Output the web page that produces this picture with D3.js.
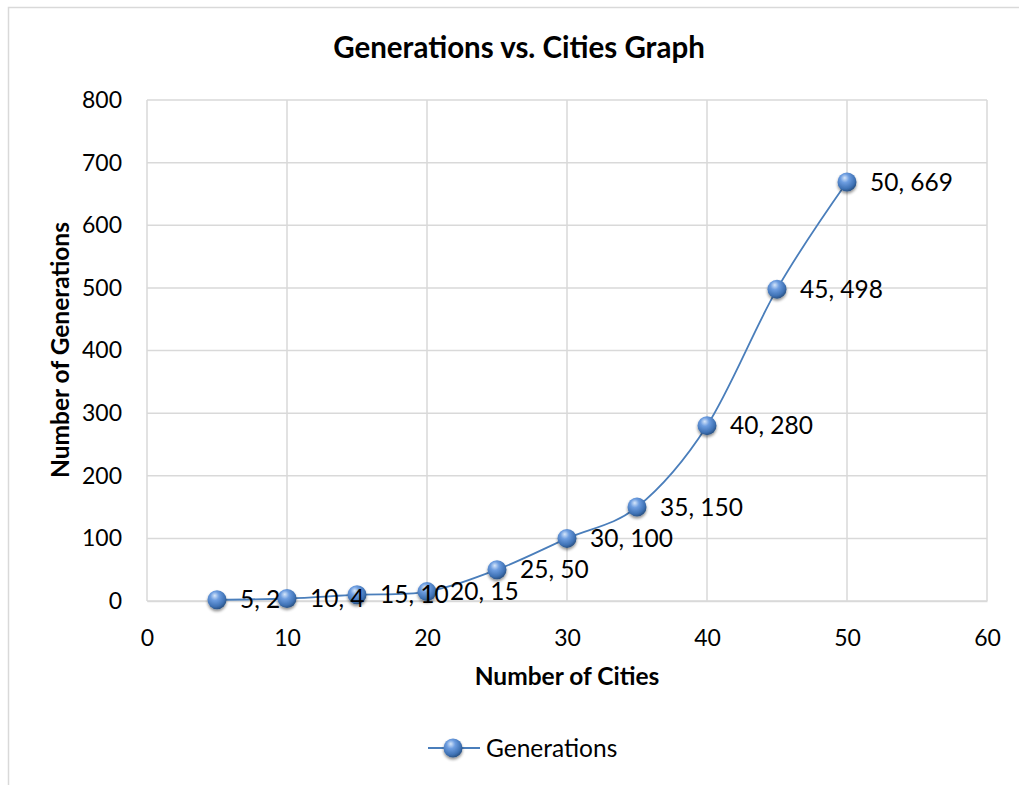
<!DOCTYPE html>
<html><head><meta charset="utf-8">
<script src="https://cdn.jsdelivr.net/npm/d3@7"></script>
<style>body{margin:0;background:#fff}svg{display:block}text{font-family:Lato,"Open Sans",sans-serif;fill:#000}</style>
</head><body>
<svg id="c" width="1019" height="785"></svg>
<script>
const cities = [5,10,15,20,25,30,35,40,45,50];
const generations = [2,4,10,15,50,100,150,280,498,669];
const xTicks = [0,10,20,30,40,50,60];
const yTicks = [0,100,200,300,400,500,600,700,800];
const seriesName = "Generations";
const titleText = "Generations vs. Cities Graph";
const xTitle = "Number of Cities";
const yTitle = "Number of Generations";

const svg = d3.select("#c");
const defs = svg.append("defs");
const g1 = defs.append("radialGradient").attr("id","ball").attr("cx","40%").attr("cy","35%").attr("r","65%").attr("fx","38%").attr("fy","28%");
g1.append("stop").attr("offset","0%").attr("stop-color","#d6e6fa");
g1.append("stop").attr("offset","35%").attr("stop-color","#6d9de0");
g1.append("stop").attr("offset","80%").attr("stop-color","#3f72b5");
g1.append("stop").attr("offset","100%").attr("stop-color","#2b5487");
const f = defs.append("filter").attr("id","sh").attr("x","-50%").attr("y","-50%").attr("width","200%").attr("height","200%");
f.append("feGaussianBlur").attr("in","SourceAlpha").attr("stdDeviation",1.6);
f.append("feOffset").attr("dx",0).attr("dy",2).attr("result","o");
f.append("feComponentTransfer").append("feFuncA").attr("type","linear").attr("slope",0.45);
const fm = f.append("feMerge"); fm.append("feMergeNode"); fm.append("feMergeNode").attr("in","SourceGraphic");

// outer chart border
svg.append("rect").attr("x",8.5).attr("y",7.5).attr("width",1040).attr("height",800)
  .attr("fill","none").attr("stroke","#d9d9d9").attr("stroke-width",1.5);

const x = d3.scaleLinear().domain([0,60]).range([147,987]);
const y = d3.scaleLinear().domain([0,800]).range([601,100]);

// gridlines
const grid = svg.append("g");
grid.selectAll(".h").data(yTicks).join("line").attr("x1",x(0)).attr("x2",x(60))
  .attr("y1",d=>y(d)).attr("y2",d=>y(d)).attr("stroke","#d9d9d9").attr("stroke-width",1.5);
grid.selectAll(".v").data(xTicks).join("line").attr("y1",y(0)).attr("y2",y(800))
  .attr("x1",d=>x(d)).attr("x2",d=>x(d)).attr("stroke","#d9d9d9").attr("stroke-width",1.5);

// axes
const xa = svg.append("g").attr("transform",`translate(0,${y(0)})`)
  .call(d3.axisBottom(x).tickValues(xTicks).tickSize(0).tickPadding(29));
xa.select(".domain").attr("stroke","#d9d9d9").attr("stroke-width",1.5);
xa.selectAll("text").style("font-size","23px").style("font-family","Lato");
const ya = svg.append("g").attr("transform",`translate(${x(0)},0)`)
  .call(d3.axisLeft(y).tickValues(yTicks).tickSize(0).tickPadding(25));
ya.select(".domain").remove();
ya.selectAll("text").style("font-size","23px").style("font-family","Lato");

// line
const pts = cities.map((c,i)=>[c,generations[i]]);
svg.append("path").datum(pts).attr("fill","none").attr("stroke","#4a7ebb").attr("stroke-width",1.8)
  .attr("d",d3.line().x(d=>x(d[0])).y(d=>y(d[1])).curve(d3.curveCatmullRom.alpha(0)));

// markers
svg.selectAll(".m").data(pts).join("circle").attr("cx",d=>x(d[0])).attr("cy",d=>y(d[1])).attr("r",9.5)
  .attr("fill","url(#ball)").attr("filter","url(#sh)");

// labels
svg.selectAll(".lb").data(pts).join("text").attr("x",d=>x(d[0])+23).attr("y",d=>y(d[1]))
  .attr("dy","0.35em").style("font-size","24.5px").text(d=>`${d[0]}, ${d[1]}`);

// title
svg.append("text").attr("x",519).attr("y",58).attr("text-anchor","middle")
  .style("font-size","29.5px").style("font-weight","bold").text(titleText);
svg.append("text").attr("x",567).attr("y",685).attr("text-anchor","middle")
  .style("font-size","24.5px").style("font-weight","bold").text(xTitle);
svg.append("text").attr("transform","translate(69,350) rotate(-90)").attr("text-anchor","middle")
  .style("font-size","24.5px").style("font-weight","bold").text(yTitle);

// legend
const lg = svg.append("g");
lg.append("line").attr("x1",428).attr("x2",480).attr("y1",748).attr("y2",748).attr("stroke","#4a7ebb").attr("stroke-width",1.8);
lg.append("circle").attr("cx",453).attr("cy",748).attr("r",9.5).attr("fill","url(#ball)").attr("filter","url(#sh)");
lg.append("text").attr("x",486).attr("y",748).attr("dy","0.35em").style("font-size","24.5px").text(seriesName);
</script>
</body></html>
